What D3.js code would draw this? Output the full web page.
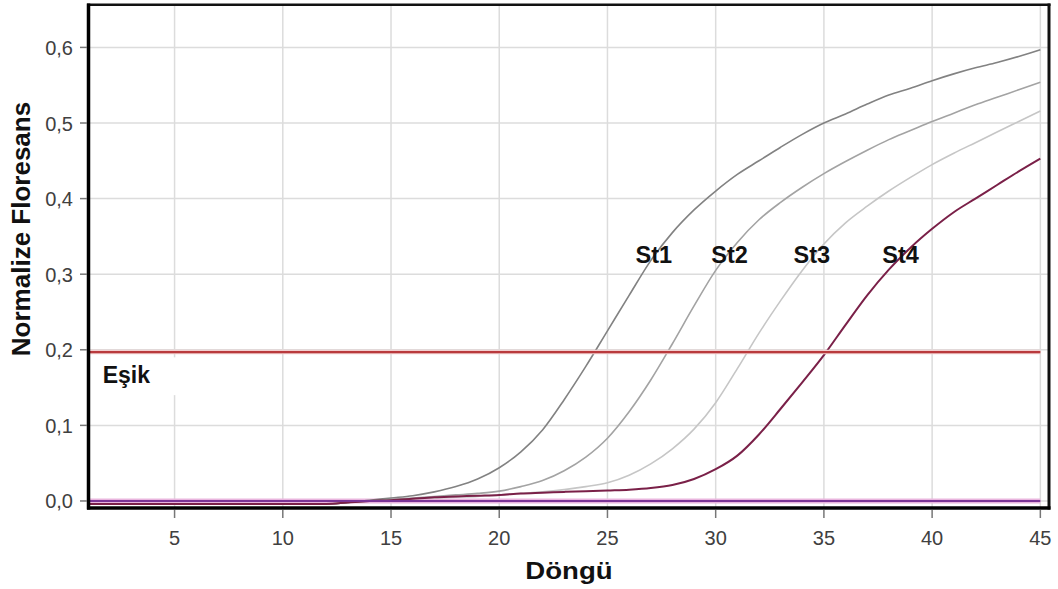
<!DOCTYPE html>
<html>
<head>
<meta charset="utf-8">
<script src="https://cdn.jsdelivr.net/npm/d3@7"></script>
<style>
  body { margin: 0; background: #fff; }
  svg { display: block; font-family: "Liberation Sans", Arial, sans-serif; }
  .tick-label { font-size: 20px; fill: #404040; }
  .bold { font-weight: bold; fill: #111; }
</style>
</head>
<body>
<svg id="chart"></svg>
<script>
const W = 1058, H = 589;

// cycle numbers (x) and normalized fluorescence per standard
const cycles = [1,2,3,4,5,6,7,8,9,10,11,12,13,14,15,16,17,18,19,20,21,22,23,24,25,26,27,28,29,30,31,32,33,34,35,36,37,38,39,40,41,42,43,44,45];
const st1 = [-0.004,-0.004,-0.004,-0.004,-0.004,-0.004,-0.004,-0.004,-0.004,-0.004,-0.004,-0.004,
  -0.002,0.001,0.004,0.007,0.012,0.019,0.029,0.044,0.065,0.094,0.134,0.178,0.225,0.272,0.318,0.355,0.385,0.41,
  0.432,0.45,0.468,0.485,0.5,0.512,0.525,0.537,0.546,0.556,0.565,0.573,0.58,0.588,0.597];
const st2 = [-0.004,-0.004,-0.004,-0.004,-0.004,-0.004,-0.004,-0.004,-0.004,-0.004,-0.004,-0.004,
  -0.002,0.0,0.002,0.004,0.006,0.008,0.01,0.013,0.019,0.027,0.04,0.058,0.083,0.118,0.16,0.208,0.258,0.305,
  0.342,0.372,0.395,0.415,0.433,0.449,0.464,0.478,0.49,0.502,0.513,0.524,0.534,0.544,0.554];
const st3 = [-0.004,-0.004,-0.004,-0.004,-0.004,-0.004,-0.004,-0.004,-0.004,-0.004,-0.004,-0.004,
  -0.002,0.0,0.002,0.003,0.004,0.005,0.006,0.008,0.01,0.012,0.015,0.019,0.024,0.034,0.049,0.069,0.095,0.13,
  0.175,0.222,0.265,0.305,0.34,0.368,0.39,0.41,0.428,0.445,0.46,0.474,0.488,0.502,0.516];
const st4 = [-0.004,-0.004,-0.004,-0.004,-0.004,-0.004,-0.004,-0.004,-0.004,-0.004,-0.004,-0.004,
  -0.002,0.0,0.001,0.003,0.005,0.006,0.007,0.008,0.01,0.011,0.012,0.013,0.014,0.015,0.017,0.021,0.029,0.042,
  0.06,0.088,0.122,0.157,0.193,0.233,0.272,0.306,0.335,0.36,0.382,0.4,0.418,0.436,0.453];
const baseline = [0, 0];          // flat negative-control trace, first to last cycle
const threshold = 0.197;          // "Eşik"

const seriesNames = ["St1", "St2", "St3", "St4"];
const seriesColors = ["#828282", "#a3a3a3", "#c6c6c6", "#7a2048"];
// where each label sits (cycle, value)
const labelCycles = [26.3, 29.8, 33.6, 37.7];
const labelValues = [0.315, 0.315, 0.315, 0.315];

const xTicks = [5, 10, 15, 20, 25, 30, 35, 40, 45];
const yTicks = [0, 0.1, 0.2, 0.3, 0.4, 0.5, 0.6];

const svg = d3.select("#chart").attr("width", W).attr("height", H);

const x = d3.scaleLinear().domain([1, 45.4]).range([88, 1049]);
const y = d3.scaleLinear().domain([-0.0093, 0.6565]).range([508, 4.7]);

// grid
const grid = svg.append("g");
grid.selectAll(".vg").data(xTicks).join("line")
  .attr("x1", d => x(d)).attr("x2", d => x(d))
  .attr("y1", y.range()[1]).attr("y2", y.range()[0])
  .attr("stroke", "#dcdcdc").attr("stroke-width", 1.5);
grid.selectAll(".hg").data(yTicks).join("line")
  .attr("x1", x.range()[0]).attr("x2", x.range()[1])
  .attr("y1", d => y(d)).attr("y2", d => y(d))
  .attr("stroke", "#dcdcdc").attr("stroke-width", 1.5);

// white box behind the threshold label
svg.append("rect")
  .attr("x", x(1) + 2).attr("y", y(0.19))
  .attr("width", x(6.6) - x(1)).attr("height", y(0.14) - y(0.19))
  .attr("fill", "#fff");

// negative control line
const flat = d3.line().x((d, i) => x(i === 0 ? 1 : 45)).y(d => y(d));
svg.append("path").datum(baseline).attr("d", flat)
  .attr("fill", "none").attr("stroke", "#e9b5de").attr("stroke-width", 5);

const line = d3.line()
  .x((d, i) => x(cycles[i]))
  .y(d => y(d))
  .curve(d3.curveMonotoneX);

const allSeries = [st1, st2, st3, st4];
// draw lightest first so the dark ones stay on top
[2, 1, 0, 3].forEach(k => {
  svg.append("path").datum(allSeries[k]).attr("d", line)
    .attr("fill", "none")
    .attr("stroke", seriesColors[k])
    .attr("stroke-width", k === 3 ? 2 : 1.6);
});

svg.append("path").datum(baseline).attr("d", flat)
  .attr("fill", "none").attr("stroke", "#7b3596").attr("stroke-width", 2);

// threshold
svg.append("line")
  .attr("x1", x(1)).attr("x2", x(45))
  .attr("y1", y(threshold)).attr("y2", y(threshold))
  .attr("stroke", "#f2d0d0").attr("stroke-width", 4.5);
svg.append("line")
  .attr("x1", x(1)).attr("x2", x(45))
  .attr("y1", y(threshold)).attr("y2", y(threshold))
  .attr("stroke", "#b93a3d").attr("stroke-width", 2.2);

// frame
svg.append("line").attr("x1", 87).attr("x2", 1050.5).attr("y1", 4.7).attr("y2", 4.7)
  .attr("stroke", "#111").attr("stroke-width", 2.5);
svg.append("line").attr("x1", 1049).attr("x2", 1049).attr("y1", 3.5).attr("y2", 509.5)
  .attr("stroke", "#111").attr("stroke-width", 3);
svg.append("line").attr("x1", 88.5).attr("x2", 88.5).attr("y1", 3.5).attr("y2", 509.5)
  .attr("stroke", "#000").attr("stroke-width", 3.5);
svg.append("line").attr("x1", 87).attr("x2", 1050.5).attr("y1", 508).attr("y2", 508)
  .attr("stroke", "#000").attr("stroke-width", 3.5);

// axes ticks
const yAxis = svg.append("g");
yAxis.selectAll("line").data(yTicks).join("line")
  .attr("x1", 80).attr("x2", 87).attr("y1", d => y(d)).attr("y2", d => y(d))
  .attr("stroke", "#777").attr("stroke-width", 1.5);
yAxis.selectAll("text").data(yTicks).join("text")
  .attr("class", "tick-label")
  .attr("x", 73).attr("y", d => y(d) + 7.5)
  .attr("text-anchor", "end")
  .text(d => d3.format(".1f")(d).replace(".", ","));

const xAxis = svg.append("g");
xAxis.selectAll("line").data(xTicks).join("line")
  .attr("x1", d => x(d)).attr("x2", d => x(d)).attr("y1", 510).attr("y2", 518)
  .attr("stroke", "#777").attr("stroke-width", 1.5);
xAxis.selectAll("text").data(xTicks).join("text")
  .attr("class", "tick-label")
  .attr("x", d => x(d)).attr("y", 545)
  .attr("text-anchor", "middle")
  .text(d => d);

// axis titles
svg.append("text").attr("class", "bold")
  .attr("transform", "translate(569,579) scale(1.15,1)")
  .attr("text-anchor", "middle")
  .style("font-size", "24px")
  .text("Döngü");

svg.append("text").attr("class", "bold")
  .attr("transform", "translate(30,229) rotate(-90)")
  .attr("text-anchor", "middle")
  .style("font-size", "26px")
  .text("Normalize Floresans");

// series labels
svg.selectAll(".st-label").data(seriesNames).join("text")
  .attr("class", "bold st-label")
  .attr("x", (d, i) => x(labelCycles[i]))
  .attr("y", (d, i) => y(labelValues[i]))
  .style("font-size", "23.5px")
  .text(d => d);

svg.append("text").attr("class", "bold")
  .attr("x", x(1.68)).attr("y", y(0.156))
  .style("font-size", "23px")
  .text("Eşik");
</script>
</body>
</html>
